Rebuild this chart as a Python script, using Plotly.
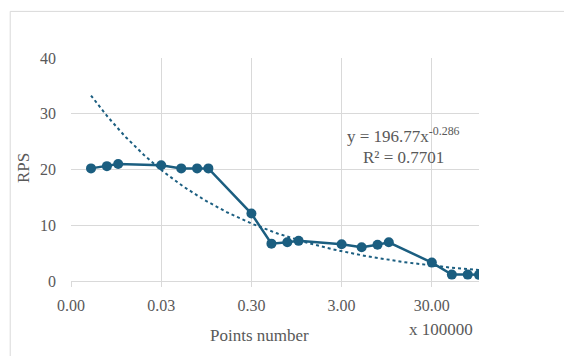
import numpy as np
import plotly.graph_objects as go

# Data (x in units of 100000 points)
points_x = [0.005, 0.0075, 0.01, 0.03, 0.05, 0.075, 0.1, 0.3, 0.5, 0.75, 1, 3, 5, 7.5, 10, 30, 50, 75, 100]
rps_y = [20.2, 20.6, 21.0, 20.75, 20.2, 20.2, 20.2, 12.1, 6.7, 6.95, 7.2, 6.6, 6.05, 6.5, 6.95, 3.3, 1.15, 1.15, 1.1]

# Power trendline coefficients (as displayed), fitted on raw point counts
trend_a = 196.77
trend_b = -0.286
scale = 100000

x_tick_vals = [0.003, 0.03, 0.3, 3, 30]
x_tick_text = ["0.00", "0.03", "0.30", "3.00", "30.00"]
y_tick_vals = [0, 10, 20, 30, 40]

color = "#1B5E80"
grid = "#D9D9D9"
txt = "#595959"
font_family = "Liberation Serif"

trend_x = np.logspace(np.log10(points_x[0]), np.log10(points_x[-1]), 200)
trend_y = trend_a * (trend_x * scale) ** trend_b

fig = go.Figure()
fig.add_trace(go.Scatter(x=trend_x, y=trend_y, mode="lines",
                         line=dict(color=color, width=2, dash="dot"), hoverinfo="skip"))
fig.add_trace(go.Scatter(x=points_x, y=rps_y, mode="lines+markers",
                         line=dict(color=color, width=2.5),
                         marker=dict(color=color, size=10)))

fig.update_layout(
    width=564, height=348,
    margin=dict(l=63, r=93, t=50, b=75),
    paper_bgcolor="white", plot_bgcolor="white",
    showlegend=False,
    font=dict(family=font_family, color=txt, size=15),
    xaxis=dict(type="log", range=[np.log10(0.003), np.log10(100)],
               tickvals=x_tick_vals, ticktext=x_tick_text,
               showgrid=True, gridcolor=grid, gridwidth=1,
               showline=True, linecolor=grid, linewidth=1,
               ticks="outside", ticklen=5, tickcolor=grid,
               ticklabelstandoff=5,
               tickfont=dict(size=16, color=txt, family=font_family), zeroline=False),
    yaxis=dict(range=[0, 40], tickvals=y_tick_vals,
               showgrid=True, gridcolor=grid, gridwidth=1,
               showline=False, zeroline=False, ticks="",
               ticklabelstandoff=14,
               tickfont=dict(size=16, color=txt, family=font_family)),
    shapes=[
        dict(type="line", xref="paper", yref="paper", x0=-0.149, x1=1.25, y0=1.209, y1=1.209,
             line=dict(color="#D9D9D9", width=1)),
        dict(type="line", xref="paper", yref="paper", x0=-0.149, x1=-0.149, y0=1.209, y1=-0.34,
             line=dict(color="#D9D9D9", width=1)),
    ],
    annotations=[
        dict(text="y = 196.77x<sup>-0.286</sup>", xref="paper", yref="paper",
             x=0.815, y=0.653, showarrow=False, xanchor="center", yanchor="middle",
             font=dict(size=17, color=txt, family=font_family)),
        dict(text="R² = 0.7701", xref="paper", yref="paper",
             x=0.815, y=0.555, showarrow=False, xanchor="center", yanchor="middle",
             font=dict(size=17, color=txt, family=font_family)),
        dict(text="Points number", xref="paper", yref="paper",
             x=0.462, y=-0.245, showarrow=False, xanchor="center", yanchor="middle",
             font=dict(size=17, color=txt, family=font_family)),
        dict(text="x 100000", xref="paper", yref="paper",
             x=0.906, y=-0.217, showarrow=False, xanchor="center", yanchor="middle",
             font=dict(size=17, color=txt, family=font_family)),
        dict(text="RPS", xref="paper", yref="paper", textangle=-90,
             x=-0.116, y=0.505, showarrow=False, xanchor="center", yanchor="middle",
             font=dict(size=17, color=txt, family=font_family)),
    ],
)

fig.write_html("out.html")
